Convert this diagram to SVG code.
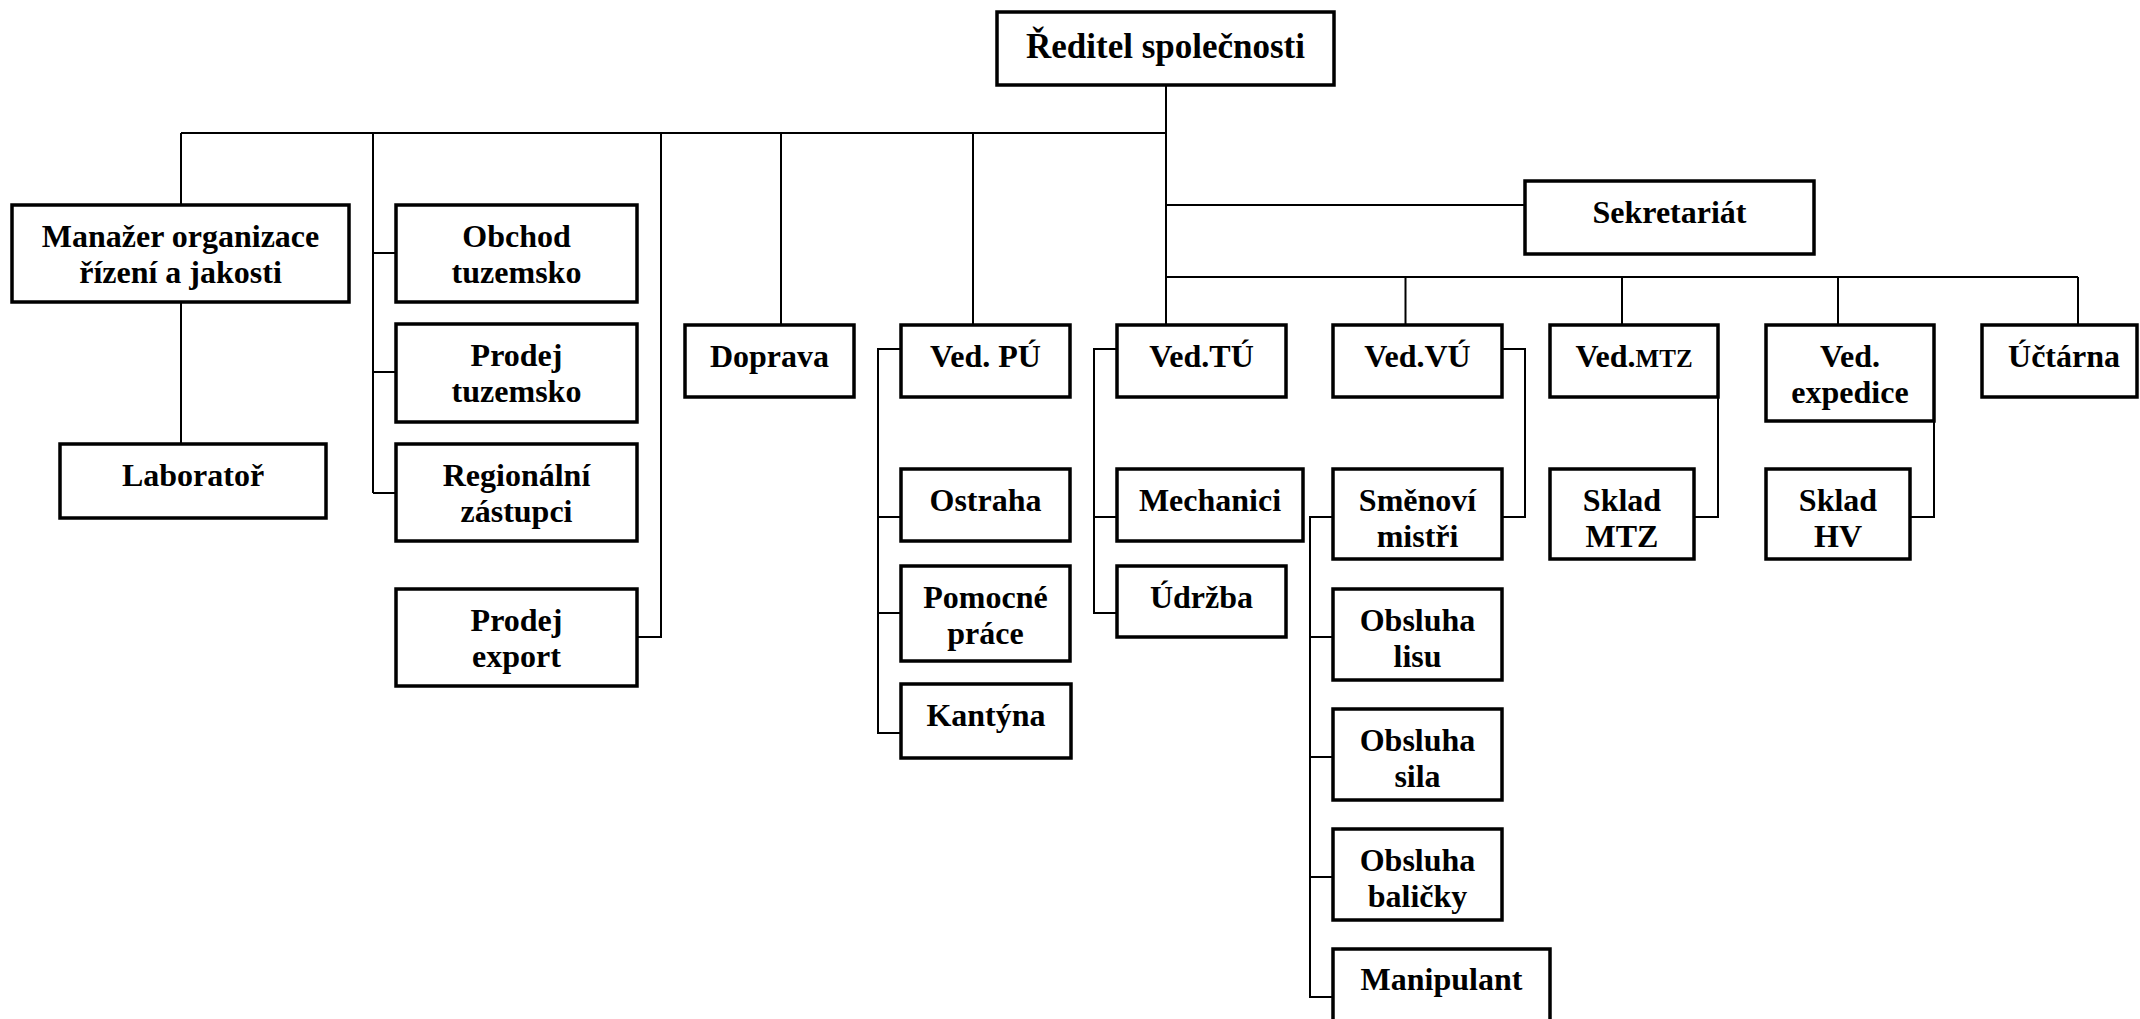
<svg xmlns="http://www.w3.org/2000/svg" width="2140" height="1019" viewBox="0 0 2140 1019">
  <style>
    .box { fill: #fff; stroke: #000; stroke-width: 3.5; }
    .lbl { font-family: "Liberation Serif", "Times New Roman", serif; font-weight: bold; font-size: 32px; fill: #000; text-anchor: middle; }
    .big { font-size: 35px; }
    .sc { font-size: 25px; }
    .wire { fill: none; stroke: #000; stroke-width: 2; }
  </style>
  <rect width="2140" height="1019" fill="#fff"/>

  <!-- connectors -->
  <g id="connectors" class="wire">
    <!-- director trunk and upper bus -->
    <path d="M1166,85 V325"/>
    <path d="M181,133 H1166"/>
    <path d="M181,133 V205 M181,302 V444"/>
    <path d="M373,133 V493 M373,253 H396 M373,372 H396 M373,493 H396"/>
    <path d="M661,133 V637 H637"/>
    <path d="M781,133 V325"/>
    <path d="M973,133 V325"/>
    <!-- secretariat -->
    <path d="M1166,205 H1525"/>
    <!-- lower bus -->
    <path d="M1166,277 H2078"/>
    <path d="M1405.5,277 V325 M1622,277 V325 M1838,277 V325 M2078,277 V325"/>
    <!-- Ved. PÚ subordinates -->
    <path d="M901,349 H878 V733 H901 M878,517 H901 M878,613 H901"/>
    <!-- Ved. TÚ subordinates -->
    <path d="M1117,349 H1094 V613 H1117 M1094,517 H1117"/>
    <!-- Ved. VÚ to shift masters -->
    <path d="M1502,349 H1525 V517 H1502"/>
    <!-- shift masters to operators -->
    <path d="M1333,517 H1310 V997 H1333 M1310,637 H1333 M1310,757 H1333 M1310,877 H1333"/>
    <!-- warehouses -->
    <path d="M1718,397 V517 H1694"/>
    <path d="M1934,421 V517 H1910"/>
  </g>

  <g id="reditel">
    <rect class="box" x="997" y="12" width="337" height="73"/>
    <text class="lbl big" x="1165.5" y="58">Ředitel společnosti</text>
  </g>

  <g id="manazer">
    <rect class="box" x="12" y="205" width="337" height="97"/>
    <text class="lbl" x="180.5" y="247">Manažer organizace</text>
    <text class="lbl" x="180.5" y="283">řízení a jakosti</text>
  </g>
  <g id="laborator">
    <rect class="box" x="60" y="444" width="266" height="74"/>
    <text class="lbl" x="193" y="486">Laboratoř</text>
  </g>

  <g id="obchod-tuzemsko">
    <rect class="box" x="396" y="205" width="241" height="97"/>
    <text class="lbl" x="516.5" y="247">Obchod</text>
    <text class="lbl" x="516.5" y="283">tuzemsko</text>
  </g>
  <g id="prodej-tuzemsko">
    <rect class="box" x="396" y="324" width="241" height="98"/>
    <text class="lbl" x="516.5" y="366">Prodej</text>
    <text class="lbl" x="516.5" y="402">tuzemsko</text>
  </g>
  <g id="regionalni-zastupci">
    <rect class="box" x="396" y="444" width="241" height="97"/>
    <text class="lbl" x="516.5" y="486">Regionální</text>
    <text class="lbl" x="516.5" y="522">zástupci</text>
  </g>
  <g id="prodej-export">
    <rect class="box" x="396" y="589" width="241" height="97"/>
    <text class="lbl" x="516.5" y="631">Prodej</text>
    <text class="lbl" x="516.5" y="667">export</text>
  </g>

  <g id="doprava">
    <rect class="box" x="685" y="325" width="169" height="72"/>
    <text class="lbl" x="769.5" y="367">Doprava</text>
  </g>

  <g id="ved-pu">
    <rect class="box" x="901" y="325" width="169" height="72"/>
    <text class="lbl" x="985.5" y="367">Ved. PÚ</text>
  </g>
  <g id="ostraha">
    <rect class="box" x="901" y="469" width="169" height="72"/>
    <text class="lbl" x="985.5" y="511">Ostraha</text>
  </g>
  <g id="pomocne-prace">
    <rect class="box" x="901" y="566" width="169" height="95"/>
    <text class="lbl" x="985.5" y="608">Pomocné</text>
    <text class="lbl" x="985.5" y="644">práce</text>
  </g>
  <g id="kantyna">
    <rect class="box" x="901" y="684" width="170" height="74"/>
    <text class="lbl" x="986" y="726">Kantýna</text>
  </g>

  <g id="ved-tu">
    <rect class="box" x="1117" y="325" width="169" height="72"/>
    <text class="lbl" x="1201.5" y="367">Ved.TÚ</text>
  </g>
  <g id="mechanici">
    <rect class="box" x="1117" y="469" width="186" height="72"/>
    <text class="lbl" x="1210" y="511">Mechanici</text>
  </g>
  <g id="udrzba">
    <rect class="box" x="1117" y="566" width="169" height="71"/>
    <text class="lbl" x="1201.5" y="608">Údržba</text>
  </g>

  <g id="ved-vu">
    <rect class="box" x="1333" y="325" width="169" height="72"/>
    <text class="lbl" x="1417.5" y="367">Ved.VÚ</text>
  </g>
  <g id="smenovi-mistri">
    <rect class="box" x="1333" y="469" width="169" height="90"/>
    <text class="lbl" x="1417.5" y="511">Směnoví</text>
    <text class="lbl" x="1417.5" y="547">mistři</text>
  </g>
  <g id="obsluha-lisu">
    <rect class="box" x="1333" y="589" width="169" height="91"/>
    <text class="lbl" x="1417.5" y="631">Obsluha</text>
    <text class="lbl" x="1417.5" y="667">lisu</text>
  </g>
  <g id="obsluha-sila">
    <rect class="box" x="1333" y="709" width="169" height="91"/>
    <text class="lbl" x="1417.5" y="751">Obsluha</text>
    <text class="lbl" x="1417.5" y="787">sila</text>
  </g>
  <g id="obsluha-balicky">
    <rect class="box" x="1333" y="829" width="169" height="91"/>
    <text class="lbl" x="1417.5" y="871">Obsluha</text>
    <text class="lbl" x="1417.5" y="907">baličky</text>
  </g>
  <g id="manipulant">
    <rect class="box" x="1333" y="949" width="217" height="90"/>
    <text class="lbl" x="1441.5" y="990">Manipulant</text>
  </g>

  <g id="sekretariat">
    <rect class="box" x="1525" y="181" width="289" height="73"/>
    <text class="lbl" x="1669.5" y="223">Sekretariát</text>
  </g>

  <g id="ved-mtz">
    <rect class="box" x="1550" y="325" width="168" height="72"/>
    <text class="lbl" x="1634" y="367">Ved.<tspan class="sc">MTZ</tspan></text>
  </g>
  <g id="sklad-mtz">
    <rect class="box" x="1550" y="469" width="144" height="90"/>
    <text class="lbl" x="1622" y="511">Sklad</text>
    <text class="lbl" x="1622" y="547">MTZ</text>
  </g>

  <g id="ved-expedice">
    <rect class="box" x="1766" y="325" width="168" height="96"/>
    <text class="lbl" x="1850" y="367">Ved.</text>
    <text class="lbl" x="1850" y="403">expedice</text>
  </g>
  <g id="sklad-hv">
    <rect class="box" x="1766" y="469" width="144" height="90"/>
    <text class="lbl" x="1838" y="511">Sklad</text>
    <text class="lbl" x="1838" y="547">HV</text>
  </g>

  <g id="uctarna">
    <rect class="box" x="1982" y="325" width="155" height="72"/>
    <text class="lbl" x="2064" y="367">Účtárna</text>
  </g>
</svg>
